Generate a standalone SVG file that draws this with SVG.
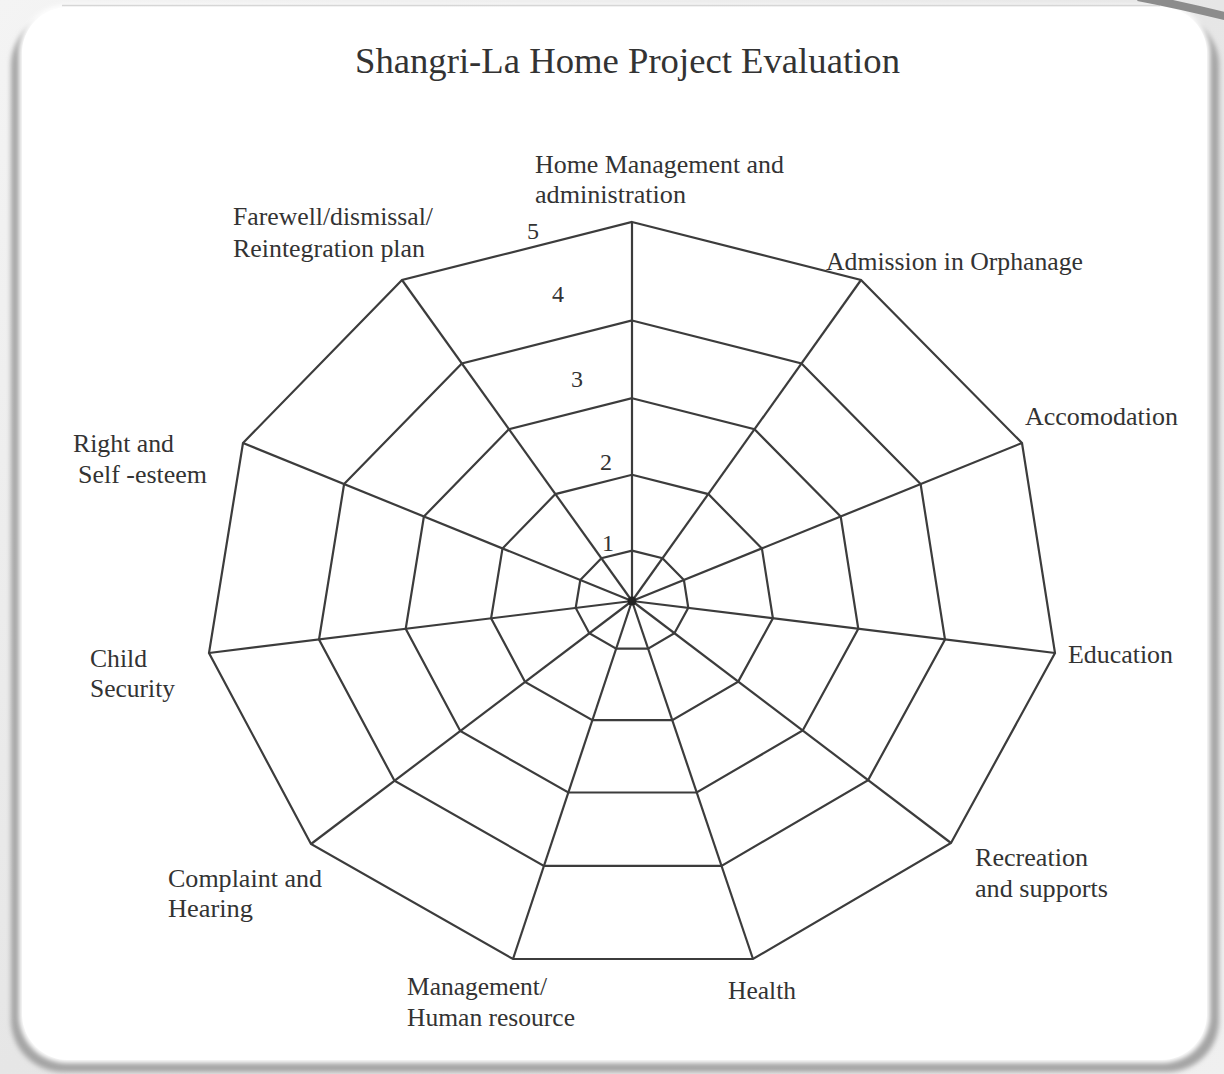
<svg xmlns="http://www.w3.org/2000/svg" width="1224" height="1074" viewBox="0 0 1224 1074">
  <defs>
    <filter id="soft" x="-5%" y="-5%" width="110%" height="110%">
      <feGaussianBlur stdDeviation="2.5"/>
    </filter>
    <linearGradient id="bg" x1="0" y1="0" x2="1" y2="1">
      <stop offset="0" stop-color="#f4f4f4"/>
      <stop offset="0.5" stop-color="#e6e6e6"/>
      <stop offset="1" stop-color="#f0f0f0"/>
    </linearGradient>
  </defs>
  <style>
    .lbl { font-family: "Liberation Serif", "Times New Roman", serif; font-size: 25px; fill: #333; }
    .num { font-family: "Liberation Serif", "Times New Roman", serif; font-size: 24px; fill: #333; }
    .title { font-family: "Liberation Serif", "Times New Roman", serif; font-size: 36px; fill: #333; }
    .ring { fill: none; stroke: #3c3c3c; stroke-width: 2.2; stroke-linejoin: miter; }
    .spoke { stroke: #3c3c3c; stroke-width: 2.2; }
  </style>

  <!-- background and frame -->
  <rect x="0" y="0" width="1224" height="1074" fill="url(#bg)"/>
  <rect x="11" y="14" width="1208" height="1058" rx="52" fill="#a4a4a4" filter="url(#soft)"/>
  <rect x="19" y="5" width="1191" height="1058" rx="48" fill="#ffffff" filter="url(#soft)"/>
  <rect x="22" y="7" width="1185" height="1053" rx="46" fill="#ffffff"/>
  <path d="M62,5.5 H1160" stroke="#d6d6d6" stroke-width="1.5"/>
  <path d="M1138,-3 Q1185,6 1228,17" fill="none" stroke="#8c8c8c" stroke-width="8"/>

  <!-- title -->
  <text class="title" x="355" y="73" textLength="545" lengthAdjust="spacingAndGlyphs">Shangri-La Home Project Evaluation</text>

  <!-- grid rings -->
  <g id="grid">
    <polygon class="ring" points="632,550.6 662.5,558.3 683.9,580 688.3,607.9 674.4,633.2 648.1,648.6 616.2,648.6 589.3,633.3 575.7,607.9 580.3,580 601.4,558.3"/>
    <polygon class="ring" points="632,474.8 708.3,494.1 761.9,548.4 772.9,618.3 738.2,681.6 672.3,720.2 592.4,720.2 525.1,681.9 491.1,618.3 502.5,548.4 555.4,494.1"/>
    <polygon class="ring" points="632,398.2 754.5,429.3 840.7,516.5 858.3,628.8 802.7,730.5 696.7,792.5 568.3,792.5 460.3,731 405.7,628.8 423.9,516.5 508.9,429.3"/>
    <polygon class="ring" points="632,320.5 801.5,363.5 920.6,484.1 945,639.5 868.1,780.1 721.5,865.9 543.9,865.9 394.5,780.8 319,639.5 344.1,484.1 461.8,363.5"/>
    <polygon class="ring" points="632,222 861,280 1022,443 1055,653 951,843 753,959 513,959 311,844 209,653 243,443 402,280"/>
  </g>

  <!-- spokes -->
  <g id="connectors">
    <line class="spoke" x1="632" y1="601" x2="632" y2="222" stroke-width="3"/>
    <line class="spoke" x1="632" y1="601" x2="861" y2="280"/>
    <line class="spoke" x1="632" y1="601" x2="1022" y2="443"/>
    <line class="spoke" x1="632" y1="601" x2="1055" y2="653"/>
    <line class="spoke" x1="632" y1="601" x2="951" y2="843"/>
    <line class="spoke" x1="632" y1="601" x2="753" y2="959"/>
    <line class="spoke" x1="632" y1="601" x2="513" y2="959"/>
    <line class="spoke" x1="632" y1="601" x2="311" y2="844"/>
    <line class="spoke" x1="632" y1="601" x2="209" y2="653"/>
    <line class="spoke" x1="632" y1="601" x2="243" y2="443"/>
    <line class="spoke" x1="632" y1="601" x2="402" y2="280"/>
    <circle cx="632" cy="601" r="4.5" fill="#222"/>
  </g>

  <!-- scale numbers -->
  <g id="scale">
    <text class="num" x="527" y="239">5</text>
    <text class="num" x="552" y="302">4</text>
    <text class="num" x="571" y="387">3</text>
    <text class="num" x="600" y="470">2</text>
    <text class="num" x="602" y="551">1</text>
  </g>

  <!-- axis labels -->
  <g id="axis-home-management">
    <text class="lbl" x="535" y="173" textLength="249" lengthAdjust="spacingAndGlyphs">Home Management and</text>
    <text class="lbl" x="535" y="203" textLength="151" lengthAdjust="spacingAndGlyphs">administration</text>
  </g>
  <g id="axis-admission">
    <text class="lbl" x="826" y="270" textLength="257" lengthAdjust="spacingAndGlyphs">Admission in Orphanage</text>
  </g>
  <g id="axis-accomodation">
    <text class="lbl" x="1025" y="425" textLength="153" lengthAdjust="spacingAndGlyphs">Accomodation</text>
  </g>
  <g id="axis-education">
    <text class="lbl" x="1068" y="663" textLength="105" lengthAdjust="spacingAndGlyphs">Education</text>
  </g>
  <g id="axis-recreation">
    <text class="lbl" x="975" y="866" textLength="113" lengthAdjust="spacingAndGlyphs">Recreation</text>
    <text class="lbl" x="975" y="897" textLength="133" lengthAdjust="spacingAndGlyphs">and supports</text>
  </g>
  <g id="axis-health">
    <text class="lbl" x="728" y="999" textLength="68" lengthAdjust="spacingAndGlyphs">Health</text>
  </g>
  <g id="axis-management-hr">
    <text class="lbl" x="407" y="995" textLength="140" lengthAdjust="spacingAndGlyphs">Management/</text>
    <text class="lbl" x="407" y="1026" textLength="168" lengthAdjust="spacingAndGlyphs">Human resource</text>
  </g>
  <g id="axis-complaint">
    <text class="lbl" x="168" y="887" textLength="154" lengthAdjust="spacingAndGlyphs">Complaint and</text>
    <text class="lbl" x="168" y="917" textLength="85" lengthAdjust="spacingAndGlyphs">Hearing</text>
  </g>
  <g id="axis-child-security">
    <text class="lbl" x="90" y="667" textLength="57" lengthAdjust="spacingAndGlyphs">Child</text>
    <text class="lbl" x="90" y="697" textLength="85" lengthAdjust="spacingAndGlyphs">Security</text>
  </g>
  <g id="axis-right">
    <text class="lbl" x="73" y="452" textLength="101" lengthAdjust="spacingAndGlyphs">Right and</text>
    <text class="lbl" x="78" y="483" textLength="129" lengthAdjust="spacingAndGlyphs">Self -esteem</text>
  </g>
  <g id="axis-farewell">
    <text class="lbl" x="233" y="225" textLength="200" lengthAdjust="spacingAndGlyphs">Farewell/dismissal/</text>
    <text class="lbl" x="233" y="257" textLength="192" lengthAdjust="spacingAndGlyphs">Reintegration plan</text>
  </g>
</svg>
